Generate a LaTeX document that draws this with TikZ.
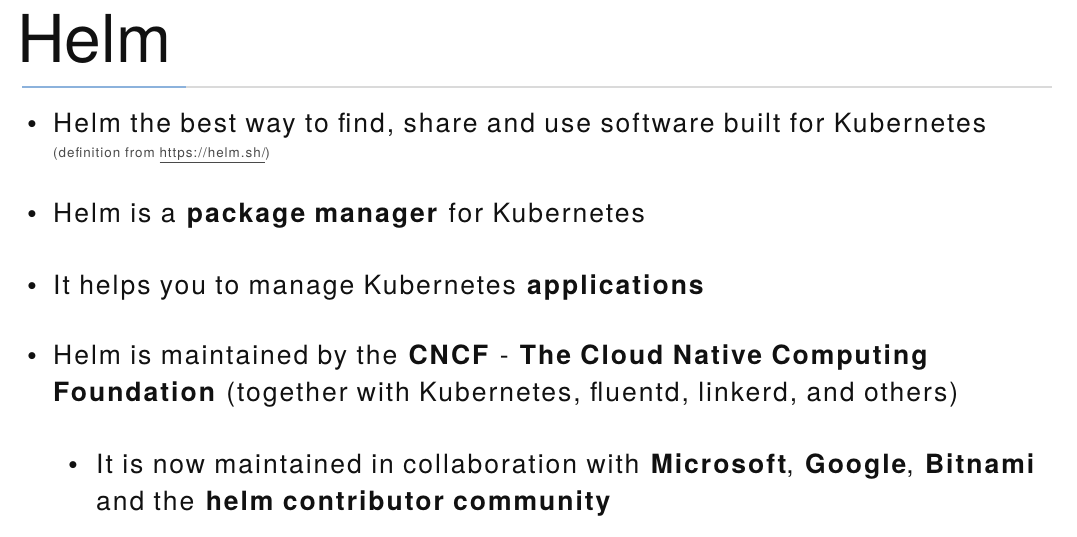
\documentclass[tikz,border=0pt]{standalone}
\usepackage{fontspec}
\setmainfont{TeX Gyre Heros}
\newfontfamily\slidefont{TeX Gyre Heros}[LetterSpace=7.5]
\usepackage{tikz}
\definecolor{slidetext}{HTML}{111111}
\definecolor{notegray}{HTML}{4A4A4A}
\definecolor{rulegray}{HTML}{DADADA}
\definecolor{ruleblue}{HTML}{8CB2DC}
\tikzset{
  txt/.style={anchor=base west, inner sep=0pt, text=slidetext, font=\slidefont\fontsize{26.5}{30}\selectfont},
  dot/.style={anchor=base, inner sep=0pt, text=slidetext, font=\bfseries\fontsize{28}{30}\selectfont},
  note/.style={anchor=base west, inner sep=0pt, text=notegray, font=\slidefont\fontsize{13.4}{14}\selectfont}
}
\begin{document}
\begin{tikzpicture}[x=1pt,y=-1pt]
    \useasboundingbox (0,0) rectangle (1077,537);
    \node [anchor=base west, inner sep=0pt, text=slidetext, font=\fontsize{66}{70}\selectfont] (title) at (17,63) {Helm};

    \coordinate (r0) at (22,87);
    \coordinate (r1) at (186,87);
    \coordinate (r2) at (1052,87);
    \draw [rulegray, line width=1.2pt] (r1) -- (r2);
    \draw [ruleblue, line width=1.2pt] (r0) -- (r1);

    \node [dot] (b1) at (32,133) {•};
    \node [txt] (l1) at (53,133) {Helm the best way to find, share and use software built for Kubernetes};
    \node [note] (src) at (53,158) {(definition from \underline{https://helm.sh/})};

    \node [dot] (b2) at (32,223) {•};
    \node [txt] (l2) at (53,223) {Helm is a \textbf{package manager} for Kubernetes};

    \node [dot] (b3) at (32,295) {•};
    \node [txt] (l3) at (53,295) {It helps you to manage Kubernetes \textbf{applications}};

    \node [dot] (b4) at (32,365) {•};
    \node [txt] (l4) at (53,365) {Helm is maintained by the \textbf{CNCF} - \textbf{The Cloud Native Computing}};
    \node [txt] (l5) at (53,402) {\textbf{Foundation} (together with Kubernetes, fluentd, linkerd, and others)};

    \node [dot] (b5) at (73,473) {•};
    \node [txt] (l6) at (96,473) {It is now maintained in collaboration with \textbf{Microsoft}, \textbf{Google}, \textbf{Bitnami}};
    \node [txt] (l7) at (96,510) {and the \textbf{helm contributor community}};
\end{tikzpicture}
\end{document}
